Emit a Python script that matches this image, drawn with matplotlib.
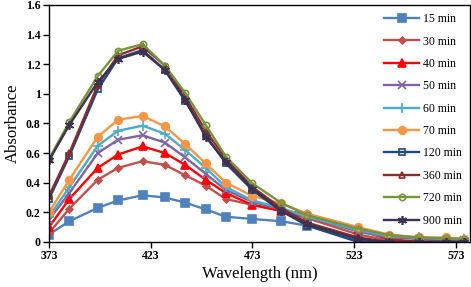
import matplotlib
matplotlib.use("Agg")
from matplotlib import pyplot as plt

plt.rcParams["font.family"] = ["Liberation Serif", "DejaVu Serif"]

wavelength = [373, 383, 397, 407, 419, 430, 440, 450, 460, 473, 487, 500,
              525, 540, 555, 568, 577]

abs_15 = [0.05, 0.14, 0.23, 0.28, 0.315, 0.30, 0.265, 0.22, 0.17, 0.155,
          0.14, 0.11, 0.01, 0.0, 0.0, 0.0, 0.0]
abs_30 = [0.06, 0.225, 0.42, 0.50, 0.545, 0.52, 0.45, 0.38, 0.29, 0.25,
          0.21, 0.16, 0.05, 0.01, 0.0, 0.0, 0.0]
abs_40 = [0.10, 0.29, 0.50, 0.59, 0.645, 0.60, 0.52, 0.42, 0.33, 0.25,
          0.21, 0.19, 0.08, 0.02, 0.0, 0.0, 0.01]
abs_50 = [0.15, 0.33, 0.60, 0.69, 0.72, 0.67, 0.57, 0.46, 0.35, 0.27,
          0.22, 0.17, 0.07, 0.03, 0.02, 0.01, 0.01]
abs_60 = [0.17, 0.37, 0.65, 0.75, 0.785, 0.73, 0.62, 0.50, 0.37, 0.28,
          0.23, 0.17, 0.08, 0.04, 0.03, 0.02, 0.02]
abs_70 = [0.20, 0.42, 0.71, 0.825, 0.85, 0.78, 0.66, 0.53, 0.40, 0.31,
          0.26, 0.19, 0.10, 0.05, 0.03, 0.03, 0.02]
abs_120 = [0.29, 0.58, 1.03, 1.24, 1.295, 1.16, 0.95, 0.72, 0.53, 0.35,
           0.21, 0.11, 0.0, 0.0, 0.0, 0.0, 0.0]
abs_360 = [0.31, 0.60, 1.06, 1.26, 1.32, 1.19, 0.98, 0.75, 0.56, 0.37,
           0.23, 0.13, 0.03, 0.0, 0.0, 0.0, 0.0]
abs_720 = [0.56, 0.81, 1.12, 1.29, 1.335, 1.19, 1.005, 0.79, 0.575, 0.395,
           0.265, 0.18, 0.09, 0.047, 0.03, 0.025, 0.02]
abs_900 = [0.55, 0.79, 1.08, 1.235, 1.285, 1.16, 0.96, 0.71, 0.54, 0.36,
           0.21, 0.12, 0.02, 0.0, 0.0, 0.0, 0.0]

labels = ["15 min", "30 min", "40 min", "50 min", "60 min", "70 min",
          "120 min", "360 min", "720 min", "900 min"]
series = [abs_15, abs_30, abs_40, abs_50, abs_60, abs_70,
          abs_120, abs_360, abs_720, abs_900]

# (colour, marker, filled, marker size)
styles = [
    ("#4F81BD", "s", True, 5.5),
    ("#C0504D", "D", True, 3.5),
    ("#FF0000", "^", True, 5.5),
    ("#8064A2", "x", True, 5.5),
    ("#4BACC6", "+", True, 6.5),
    ("#F79646", "o", True, 5.5),
    ("#1F497D", "s", False, 4.5),
    ("#8B2B2B", "^", False, 4.5),
    ("#77933C", "o", False, 4.5),
    ("#3F3151", (6, 2, 0), True, 6.5),
]

fig = plt.figure(figsize=(4.71, 2.87), dpi=100)
ax = fig.add_axes([0.104, 0.157, 0.894, 0.826])

for values, label, (color, marker, filled, ms) in zip(series, labels, styles):
    ax.plot(
        wavelength, values, color=color, lw=1.7, marker=marker,
        markersize=ms, markerfacecolor=color if filled else "none",
        markeredgecolor=color, markeredgewidth=1.2, label=label,
    )

ax.set_xlim(373, 580)
ax.set_ylim(0, 1.6)
ax.set_xticks([373, 423, 473, 523, 573])
ax.set_yticks([0, 0.2, 0.4, 0.6, 0.8, 1.0, 1.2, 1.4, 1.6])
ax.set_yticklabels(["0", "0.2", "0.4", "0.6", "0.8", "1", "1.2", "1.4", "1.6"])
ax.tick_params(direction="out", length=4, width=1, labelsize=8.5, pad=2)
for lab in ax.get_xticklabels() + ax.get_yticklabels():
    lab.set_fontweight("bold")
for spine in ax.spines.values():
    spine.set_color("black")
    spine.set_linewidth(1)

ax.set_xlabel("Wavelength (nm)", fontsize=12, labelpad=3)
ax.set_ylabel("Absorbance", fontsize=12, labelpad=4)

leg = ax.legend(
    loc="upper right", bbox_to_anchor=(1.0, 1.0), frameon=False,
    fontsize=8.5, handlelength=3.0, labelspacing=0.88, handletextpad=0.3,
    borderaxespad=0.3,
)

fig.savefig("out.png", dpi=100)
